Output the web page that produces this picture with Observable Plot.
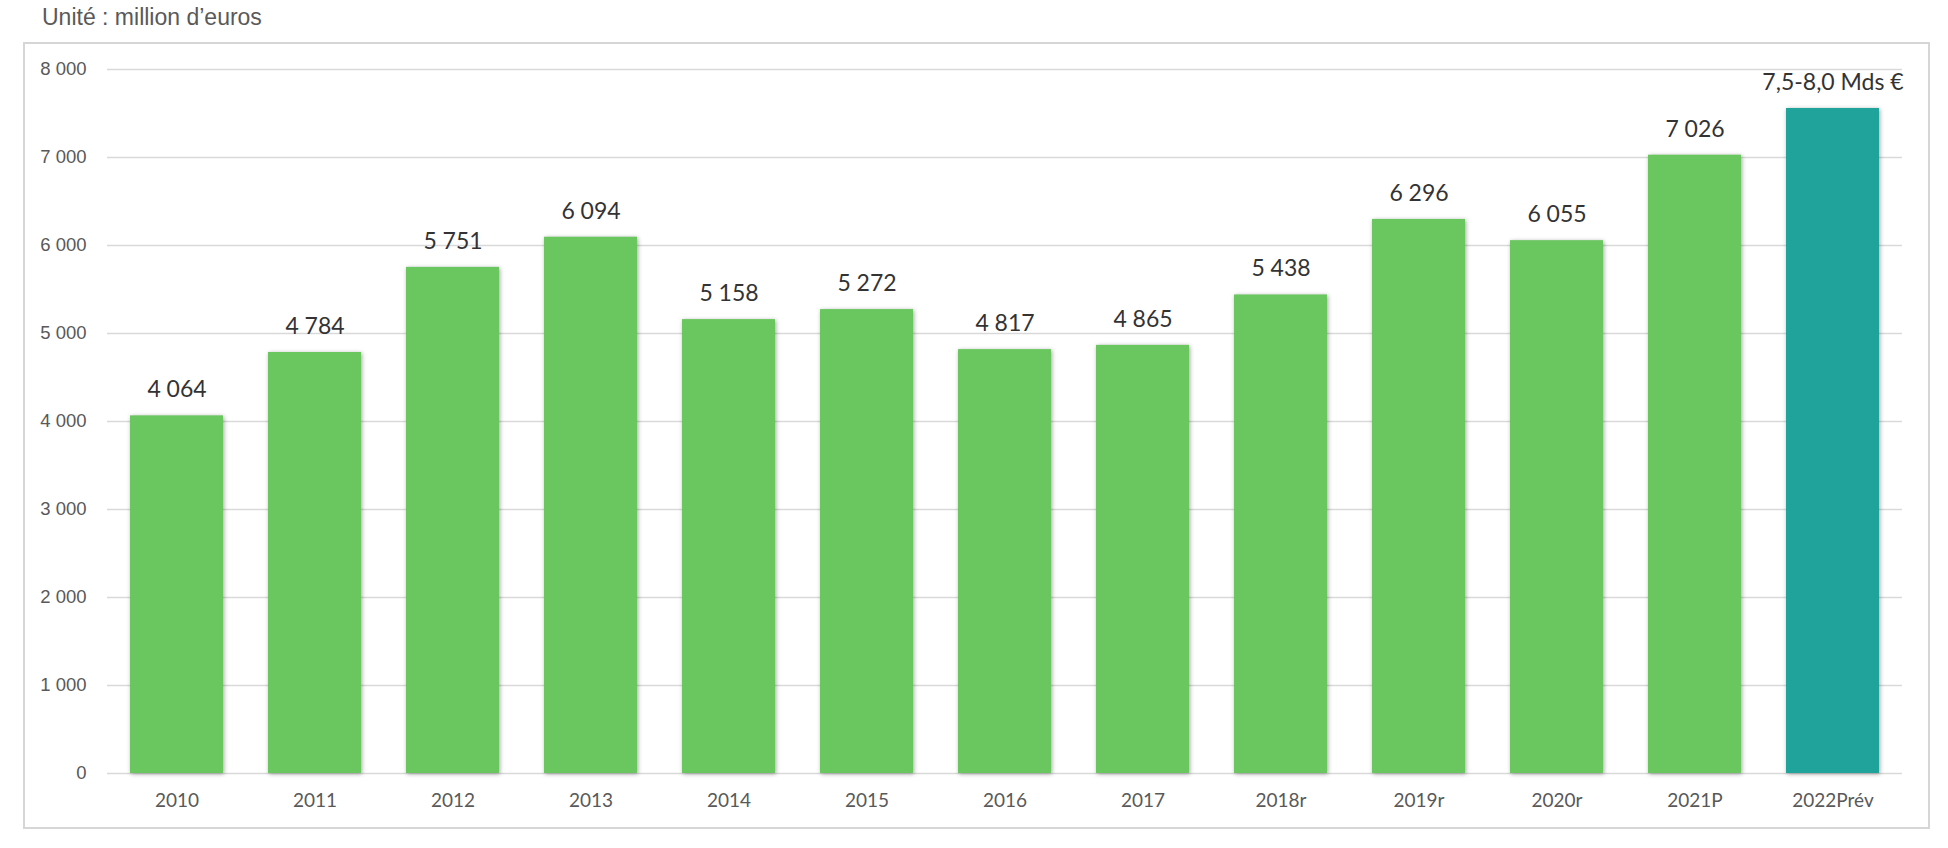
<!DOCTYPE html>
<html><head><meta charset="utf-8">
<script src="https://cdn.jsdelivr.net/npm/d3@7"></script>
<script src="https://cdn.jsdelivr.net/npm/@observablehq/plot@0.6"></script>
<style>
html,body{margin:0;padding:0;background:#fff;}
#wrap{position:relative;width:1948px;height:848px;overflow:hidden;}
#title{position:absolute;left:42px;top:4px;font:23px "Liberation Sans",Arial,sans-serif;color:#595959;}
#frame{position:absolute;left:23px;top:42px;width:1903px;height:783px;border:2px solid #d6d6d6;}
#chart{position:absolute;left:0;top:43px;}
</style></head>
<body><div id="wrap"><div id="title">Unité : million d’euros</div><div id="frame"></div><div id="chart"></div></div>
<script>
const categories = ["2010","2011","2012","2013","2014","2015","2016","2017","2018r","2019r","2020r","2021P","2022Prév"];
const values = [4064,4784,5751,6094,5158,5272,4817,4865,5438,6296,6055,7026,7557];
const labels = ["4 064","4 784","5 751","6 094","5 158","5 272","4 817","4 865","5 438","6 296","6 055","7 026","7,5-8,0 Mds €"];
const kinds = ["réel","réel","réel","réel","réel","réel","réel","réel","réel","réel","réel","réel","prévision"];
const yTicks = [0,1000,2000,3000,4000,5000,6000,7000,8000];

const data = categories.map((c,i)=>({cat:c, value:values[i], label:labels[i], kind:kinds[i]}));
const fmt = d => d3.format(",")(d).replace(/,/g," ");

const plot = Plot.plot({
  width:1948, height:785,
  marginLeft:107, marginRight:46, marginTop:26, marginBottom:55,
  style:{background:"transparent", fontFamily:"Lato, sans-serif"},
  x:{domain:categories, paddingInner:0.326, paddingOuter:0.163, label:null, tickSize:0},
  y:{domain:[0,8000], label:null},
  color:{domain:["réel","prévision"], range:["#6AC75F","#1FA39A"]},
  marks:[
    Plot.gridY(yTicks,{stroke:"#d9d9d9", strokeOpacity:1, strokeWidth:1.5}),
    Plot.axisY(yTicks,{tickSize:0, tickPadding:21, tickFormat:fmt, fontSize:18.5, fill:"#595959", fontFamily:"Liberation Sans, Arial, sans-serif", label:null}),
    Plot.axisX({tickSize:0, tickPadding:20, fontSize:19, fill:"#595959", fontFamily:"Lato, sans-serif", label:null}),
    Plot.barY(data,{x:"cat", y:"value", fill:"kind", inset:0, imageFilter:"drop-shadow(1px 1px 2px rgba(0,0,0,0.35))"}),
    Plot.text(data,{x:"cat", y:"value", text:"label", dy:-26, lineAnchor:"middle", fontSize:23, fill:"#333", fontFamily:"Lato, sans-serif"})
  ]
});
document.getElementById("chart").appendChild(plot);
</script></body></html>
